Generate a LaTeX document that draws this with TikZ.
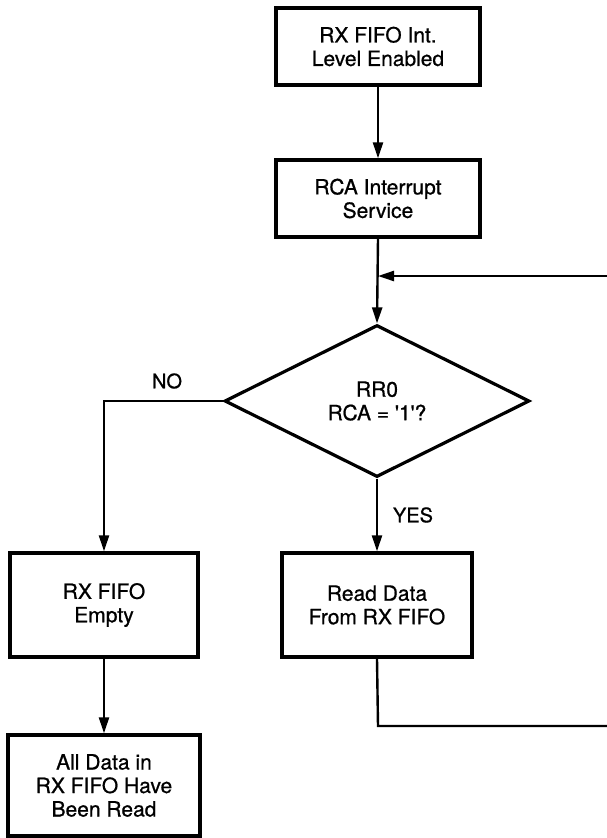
\documentclass[tikz,border=0pt]{standalone}
\usepackage{fontspec}
\setmainfont{TeX Gyre Heros}[FakeBold=0.8]
\usetikzlibrary{arrows.meta,shapes.geometric}
\begin{document}
\begin{tikzpicture}[x=1pt,y=1pt,
  every node/.style={font=\fontsize{21}{23.5}\selectfont, align=center, inner sep=0pt},
  procbox/.style={draw, line width=3.4pt, rectangle},
  decbox/.style={draw, line width=3.2pt, diamond},
  conn/.style={line width=2.4pt, -{Triangle[length=16pt,width=10pt]}},
  plainline/.style={line width=2.4pt},
  lbl/.style={font=\fontsize{20}{22}\selectfont}]
\useasboundingbox (0,0) rectangle (607,-838);
\node[procbox, minimum width=204pt, minimum height=77pt] (b1) at (378,-46.5) {RX FIFO Int.\\Level Enabled};
\node[procbox, minimum width=204pt, minimum height=77pt] (b2) at (378,-198.5) {RCA Interrupt\\Service};
\node[decbox, minimum width=305pt, minimum height=152pt] (dia) at (377,-401) {RR0\\RCA = \textquotesingle1\textquotesingle?};
\node[procbox, minimum width=188pt, minimum height=104pt] (b3) at (104,-605) {RX FIFO\\Empty};
\node[procbox, minimum width=190pt, minimum height=104pt] (b5) at (377,-605) {Read Data\\From RX FIFO};
\node[procbox, minimum width=192pt, minimum height=101pt] (b4) at (104,-785.5) {All Data in\\RX FIFO Have\\Been Read};
\node[lbl] (no) at (167,-381) {NO};
\node[lbl] (yes) at (413,-515) {YES};
\coordinate (fbR) at (607,-276);
\coordinate (join) at (378,-276);
\coordinate (botR) at (607,-726);
\coordinate (botL) at (378,-726);
\draw[conn] (b1.south) -- (b2.north);
\draw[conn] (b2.south) -- (dia.north);
\draw[conn] (fbR) -- (join);
\draw[conn] (dia.west) -| (b3.north);
\draw[conn] (dia.south) -- (b5.north);
\draw[conn] (b3.south) -- (b4.north);
\draw[plainline] (b5.south) -- (botL) -- (botR);
\end{tikzpicture}
\end{document}
